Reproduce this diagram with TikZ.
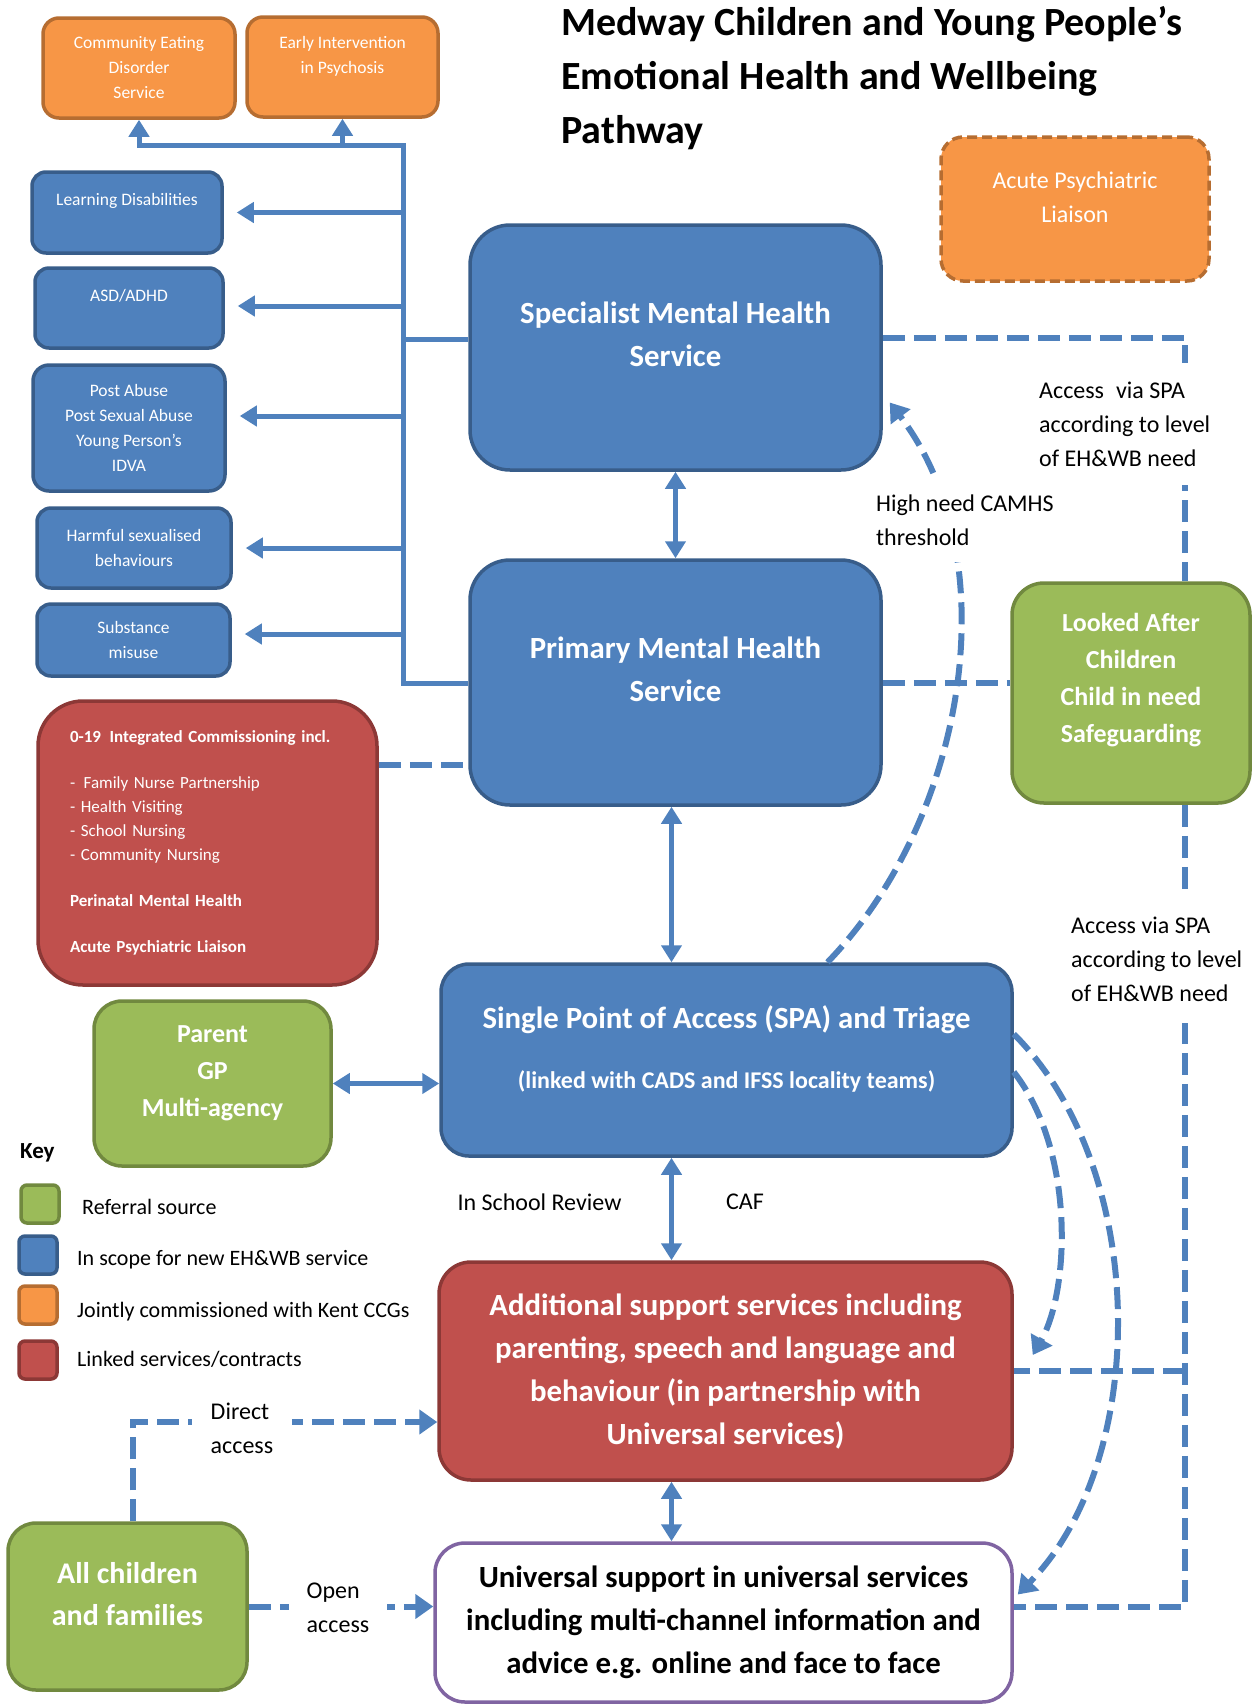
\documentclass[tikz,border=0pt]{standalone}
\usepackage{fontspec}
\setmainfont{Carlito}
\usetikzlibrary{arrows.meta,calc}

\definecolor{ebblue}{HTML}{4F81BD}
\definecolor{ebblueline}{HTML}{385D8A}
\definecolor{eborange}{HTML}{F79646}
\definecolor{eborangeline}{HTML}{B66D31}
\definecolor{ebgreen}{HTML}{9BBB59}
\definecolor{ebgreenline}{HTML}{71893F}
\definecolor{ebred}{HTML}{C0504D}
\definecolor{ebredline}{HTML}{8C3836}
\definecolor{ebpurple}{HTML}{8064A2}
\def\lift#1{\rule[-#1]{0pt}{#1}}

\tikzset{
	svcbox/.style={draw, line width=3.5pt, align=center, inner sep=0pt, text=white},
	bluebox/.style={svcbox, fill=ebblue, draw=ebblueline},
	orangebox/.style={svcbox, fill=eborange, draw=eborangeline},
	greenbox/.style={svcbox, fill=ebgreen, draw=ebgreenline},
	redbox/.style={svcbox, fill=ebred, draw=ebredline},
	smalltext/.style={font=\fontsize{17.5}{25}\selectfont},
	bigtext/.style={font=\fontsize{30.8}{43}\selectfont\bfseries},
	midtext/.style={font=\fontsize{26}{37}\selectfont\bfseries},
	labeltext/.style={font=\fontsize{24}{34}\selectfont, align=left, inner sep=0pt},
	keytext/.style={font=\fontsize{22}{26}\selectfont, anchor=west, inner sep=0pt},
	keysq/.style={draw, line width=3.5pt, rounded corners=6pt, minimum width=38pt, minimum height=38pt, inner sep=0pt},
	conn/.style={ebblue, line width=5pt},
	connarrow/.style={conn, -{Triangle[length=17pt,width=20pt]}},
	conndbl/.style={conn, {Triangle[length=17pt,width=20pt]}-{Triangle[length=17pt,width=20pt]}},
	dashconn/.style={ebblue, line width=6pt, dash pattern=on 22pt off 9pt},
	dasharrow/.style={dashconn, -{Triangle[length=18pt,width=24pt]}},
}

\begin{document}
\begin{tikzpicture}[x=1pt,y=-1pt]
	%%%%% START %%%%%
	\useasboundingbox (0,0) rectangle (1260,1706);
	
	\node[font=\fontsize{40}{54}\selectfont\bfseries, align=left, anchor=west, inner sep=0pt] (title) at (561,78) {Medway Children and Young People’s\\Emotional Health and Wellbeing\\Pathway};
	
	% jointly commissioned
	\node[orangebox, smalltext, rounded corners=16pt, minimum width=192pt, minimum height=100pt] (ceds) at (139,68) {Community Eating\\Disorder\\Service};
	\node[orangebox, smalltext, rounded corners=16pt, minimum width=191pt, minimum height=100pt] (eip) at (342.5,67) {Early Intervention\\in Psychosis\lift{24pt}};
	\node[orangebox, font=\fontsize{24}{34}\selectfont, rounded corners=22pt, dash pattern=on 10pt off 5pt, minimum width=268pt, minimum height=144pt] (apl) at (1075,209) {Acute Psychiatric\\Liaison\lift{24pt}};
	
	% left column
	\node[bluebox, smalltext, rounded corners=14pt, minimum width=190pt, minimum height=81pt] (ld) at (127,212.5) {Learning Disabilities\lift{26pt}};
	\node[bluebox, smalltext, rounded corners=14pt, minimum width=188pt, minimum height=80pt] (asd) at (129,308) {ASD/ADHD\lift{26pt}};
	\node[bluebox, smalltext, rounded corners=16pt, minimum width=192pt, minimum height=126pt] (pab) at (129,428) {Post Abuse\\Post Sexual Abuse\\Young Person’s\\IDVA};
	\node[bluebox, smalltext, rounded corners=14pt, minimum width=194pt, minimum height=80pt] (hsb) at (134,548) {Harmful sexualised\\behaviours};
	\node[bluebox, smalltext, rounded corners=14pt, minimum width=193pt, minimum height=72pt] (sub) at (133.5,640) {Substance\\misuse};
	
	\node[redbox, align=left, text width=275pt, font=\fontsize{17}{24}\selectfont, rounded corners=45pt, minimum width=339pt, minimum height=284pt] (icp) at (207.5,843) {\textbf{0-19\enspace Integrated Commissioning incl.}\\[22pt]-\enspace Family Nurse Partnership\\- Health Visiting\\- School Nursing\\- Community Nursing\\[22pt]\textbf{Perinatal Mental Health}\\[22pt]\textbf{Acute Psychiatric Liaison}};
	
	% main pathway
	\node[bluebox, bigtext, rounded corners=40pt, minimum width=411pt, minimum height=245pt] (spec) at (675.5,347.5) {Specialist Mental Health\\Service\lift{26pt}};
	\node[bluebox, bigtext, rounded corners=40pt, minimum width=411pt, minimum height=245pt] (prim) at (675.5,682.5) {Primary Mental Health\\Service\lift{26pt}};
	\node[bluebox, font=\fontsize{30.8}{60}\selectfont\bfseries, rounded corners=28pt, minimum width=571pt, minimum height=192pt] (spa) at (726.5,1060) {Single Point of Access (SPA) and Triage\\{\fontsize{24}{28}\selectfont(linked with CADS and IFSS locality teams)\lift{26pt}}};
	\node[redbox, bigtext, rounded corners=32pt, minimum width=573pt, minimum height=218pt] (addl) at (725.5,1371) {Additional support services including\\parenting, speech and language and\\behaviour (in partnership with\\Universal services)};
	\node[svcbox, fill=white, draw=ebpurple, text=black, bigtext, rounded corners=30pt, minimum width=577pt, minimum height=159pt] (univ) at (723.5,1622.5) {Universal support in universal services\\including multi-channel information and\\advice e.g. online and face to face};
	
	% referral sources
	\node[greenbox, midtext, rounded corners=32pt, minimum width=238pt, minimum height=220pt] (lac) at (1131,693) {Looked After\\Children\\Child in need\\Safeguarding\lift{31pt}};
	\node[greenbox, midtext, rounded corners=28pt, minimum width=237pt, minimum height=165pt] (parent) at (212.5,1083.5) {Parent\\GP\\Multi-agency\lift{24pt}};
	\node[greenbox, font=\fontsize{30}{42}\selectfont\bfseries, rounded corners=28pt, minimum width=239pt, minimum height=167pt] (allch) at (127.5,1606.5) {All children\\and families\lift{26pt}};
	
	% key
	\node[font=\fontsize{23}{28}\selectfont\bfseries, anchor=west, inner sep=0pt] (keyhead) at (20,1153) {Key};
	\node[keysq, fill=ebgreen, draw=ebgreenline] (keyref) at (40,1204) {};
	\node[keysq, fill=ebblue, draw=ebblueline] (keyscope) at (38,1255) {};
	\node[keysq, fill=eborange, draw=eborangeline] (keyjoint) at (38,1305) {};
	\node[keysq, fill=ebred, draw=ebredline] (keylinked) at (38,1360) {};
	\node[keytext] (keyreftxt) at (82,1207) {Referral source};
	\node[keytext] (keyscopetxt) at (77,1260) {In scope for new EH\&WB service};
	\node[keytext] (keyjointtxt) at (77,1312) {Jointly commissioned with Kent CCGs};
	\node[keytext] (keylinkedtxt) at (77,1359) {Linked services/contracts};
	
	% tree of services
	\coordinate (trunktop) at (403,145);
	\coordinate (trunkbot) at (403,683);
	\coordinate (specin) at ([yshift=8pt]spec.west);
	\draw[connarrow] (trunkbot -| prim.west) -- (trunkbot) -- (trunktop) -| (ceds.south);
	\draw[connarrow] (eip.south |- trunktop) -- (eip.south);
	\draw[conn] (trunktop |- specin) -- (specin);
	\foreach \svc/\dy in {ld/0,asd/2,pab/12,hsb/0,sub/6}{
		\coordinate (svcin) at ([shift={(13pt,\dy pt)}]\svc.east);
		\draw[connarrow] (trunktop |- svcin) -- (svcin);
	}
	
	% solid links
	\coordinate (midcol) at ([xshift=-4pt]prim.south);
	\draw[conndbl] (spec.south) -- (prim.north);
	\draw[conndbl] (midcol) -- (midcol |- spa.north);
	\draw[conndbl] (midcol |- spa.south) -- (midcol |- addl.north);
	\draw[conndbl] (midcol |- addl.south) -- (midcol |- univ.north);
	\draw[conndbl] (parent.east) -- (parent.east -| spa.west);
	
	% dashed links
	\coordinate (icpout) at ([yshift=78pt]icp.east);
	\draw[dashconn] (icpout) -- (icpout -| prim.west);
	\coordinate (railtop) at ([xshift=54pt]lac.north);
	\coordinate (railbot) at ([xshift=54pt]lac.south);
	\draw[dashconn] ([yshift=10pt]spec.east) -| (railtop);
	\draw[dashconn] (prim.east) -- (prim.east -| lac.west);
	\draw[dashconn] (railbot) |- ([yshift=16pt]univ.east);
	\draw[dashconn] (railbot |- addl.east) -- (addl.east);
	\draw[dasharrow] ([xshift=5pt]allch.north) |- ([yshift=-51pt]addl.west);
	\draw[dasharrow] (allch.east) -- (allch.east -| univ.west);
	
	\coordinate (spatop) at ([xshift=101pt]spa.north);
	\draw[dasharrow] (spatop) .. controls (965,820) and (1010,560) .. ([shift={(7pt,-55pt)}]spec.east);
	\draw[dasharrow] ([yshift=-12pt]spa.east) .. controls (1075,1150) and (1070,1290) .. ([shift={(19pt,16pt)}]addl.east);
	\draw[dasharrow] ([yshift=26pt]spa.east) .. controls (1150,1170) and (1150,1460) .. ([shift={(4pt,28pt)}]univ.east);
	
	% labels
	\node[labeltext, anchor=west, fill=white, inner xsep=2pt, inner ysep=17pt] (highneed) at (874,520) {High need CAMHS\\threshold};
	\node[labeltext, anchor=west, fill=white, inner xsep=2pt, inner ysep=19pt] (accessup) at (1037,424) {Access\enspace via SPA\\according to level\\of EH\&WB need};
	\node[labeltext, anchor=west, fill=white, inner xsep=2pt, inner ysep=22pt] (accessdown) at (1069,959) {Access via SPA\\according to level\\of EH\&WB need};
	\node[labeltext] (inschool) at (539.5,1202) {In School Review};
	\node[labeltext] (caf) at (745,1202) {CAF};
	\node[labeltext, fill=white, inner xsep=19pt, inner ysep=2pt] (direct) at (242,1428) {Direct\\access};
	\node[labeltext, fill=white, inner xsep=18pt, inner ysep=2pt] (open) at (338,1608) {Open\\access};
	
	%%%%% END %%%%%
\end{tikzpicture}
\end{document}
